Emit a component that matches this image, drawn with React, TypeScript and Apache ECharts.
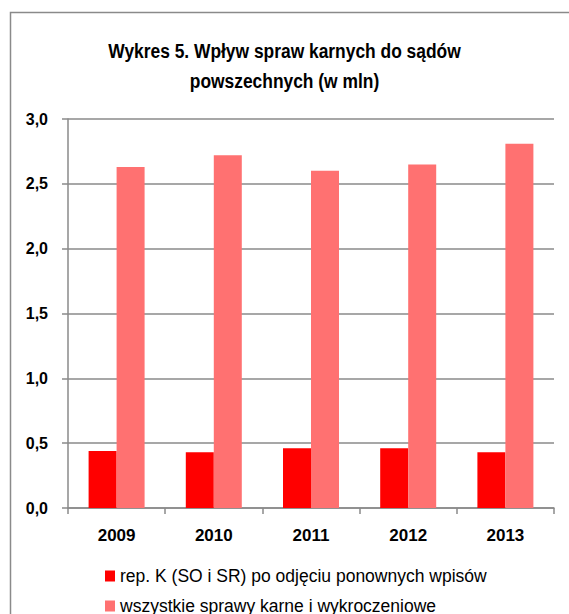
import React, { useEffect, useRef } from "react";
import * as echarts from "echarts";

const categories = ["2009", "2010", "2011", "2012", "2013"];
const seriesNames = [
  "rep. K (SO i SR) po odjęciu ponownych wpisów",
  "wszystkie sprawy karne i wykroczeniowe",
];
const repK = [0.44, 0.43, 0.46, 0.46, 0.43];
const allCases = [2.63, 2.72, 2.6, 2.65, 2.81];
const titleLines = ["Wykres 5. Wpływ spraw karnych do sądów", "powszechnych (w mln)"];

const FONT = "'Liberation Sans', Arial, sans-serif";

export default function App() {
  const ref = useRef<HTMLDivElement>(null);
  useEffect(() => {
    if (!ref.current) return;
    const chart = echarts.init(ref.current, undefined, { renderer: "svg" });
    const legendBase = {
      orient: "horizontal",
      left: 105,
      padding: 0,
      itemWidth: 10,
      itemHeight: 11,
      icon: "rect",
      textStyle: { fontFamily: FONT, fontSize: 17.5, color: "#000" },
    };
    chart.setOption({
      animation: false,
      backgroundColor: "#ffffff",
      textStyle: { fontFamily: FONT },
      graphic: [
        {
          type: "rect",
          shape: { x: 10.5, y: 12.5, width: 700, height: 700 },
          style: { fill: "none", stroke: "#8a8a8a", lineWidth: 1.5 },
          silent: true,
        },
        ...titleLines.map((t, i) => ({
          type: "text",
          x: 284.5,
          y: 51 + i * 30,
          scaleX: 0.87,
          silent: true,
          style: {
            text: t,
            x: 0,
            y: 0,
            textAlign: "center",
            textVerticalAlign: "middle",
            fontFamily: FONT,
            fontSize: 20,
            fontWeight: "bold",
            fill: "#000",
          },
        })),
      ],
      grid: { left: 68, right: 15, top: 119, bottom: 106, containLabel: false },
      legend: [
        { ...legendBase, top: 567, data: [seriesNames[0]] },
        { ...legendBase, top: 597, data: [seriesNames[1]] },
      ],
      xAxis: {
        type: "category",
        data: categories,
        axisLine: { show: true, lineStyle: { color: "#8a8a8a", width: 1.5 } },
        axisTick: { show: true, length: 6, lineStyle: { color: "#8a8a8a", width: 1.5 } },
        axisLabel: {
          fontFamily: FONT,
          fontSize: 17,
          fontWeight: "bold",
          color: "#000",
          margin: 19,
        },
      },
      yAxis: {
        type: "value",
        min: 0,
        max: 3,
        interval: 0.5,
        axisLine: { show: true, lineStyle: { color: "#8a8a8a", width: 1.5 } },
        axisTick: { show: true, length: 6, lineStyle: { color: "#8a8a8a", width: 1.5 } },
        splitLine: { show: true, lineStyle: { color: "#8a8a8a", width: 1.5 } },
        axisLabel: {
          fontFamily: FONT,
          fontSize: 16,
          fontWeight: "bold",
          color: "#000",
          margin: 20,
          formatter: (v: number) => v.toFixed(1).replace(".", ","),
        },
      },
      series: [
        {
          name: seriesNames[0],
          type: "bar",
          data: repK,
          barWidth: 28,
          barGap: "0%",
          itemStyle: { color: "#ff0000" },
        },
        {
          name: seriesNames[1],
          type: "bar",
          data: allCases,
          barWidth: 28,
          barGap: "0%",
          itemStyle: { color: "#ff7171" },
        },
      ],
    });
    return () => chart.dispose();
  }, []);
  return (
    <div
      ref={ref}
      style={{ position: "absolute", left: 0, top: 0, width: 569, height: 614 }}
    />
  );
}
